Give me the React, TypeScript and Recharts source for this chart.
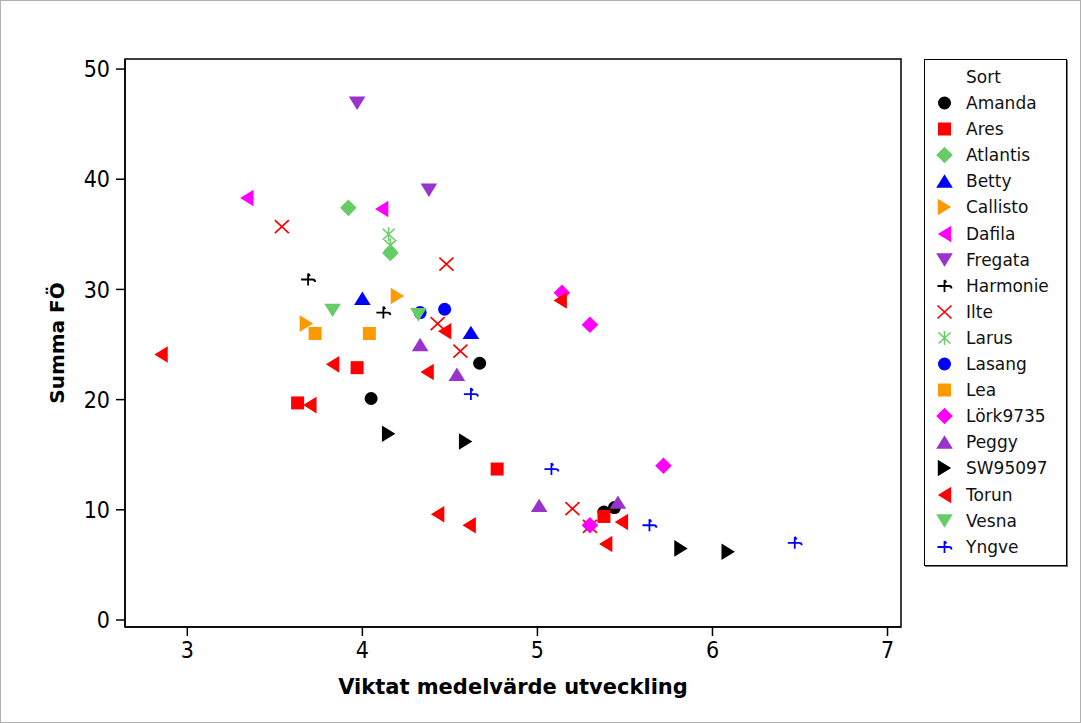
import { ReferenceArea, Scatter, ScatterChart, XAxis, YAxis } from "recharts";

type Pt = { x: number; y: number };
type Kind = "circle" | "square" | "diamond" | "up" | "right" | "left" | "down" | "hook" | "cross" | "star";

// Varieties (Sort)
const amanda: Pt[] = [
	{ x: 4.05, y: 20.1 },
	{ x: 4.67, y: 23.3 },
	{ x: 5.38, y: 9.8 },
	{ x: 5.44, y: 10.2 },
];
const ares: Pt[] = [
	{ x: 3.63, y: 19.7 },
	{ x: 3.97, y: 22.9 },
	{ x: 4.77, y: 13.7 },
	{ x: 5.38, y: 9.4 },
];
const atlantis: Pt[] = [
	{ x: 3.92, y: 37.4 },
	{ x: 4.16, y: 33.3 },
];
const betty: Pt[] = [
	{ x: 4.0, y: 29.2 },
	{ x: 4.62, y: 26.1 },
];
const callisto: Pt[] = [
	{ x: 3.68, y: 26.9 },
	{ x: 4.2, y: 29.4 },
];
const dafila: Pt[] = [
	{ x: 3.34, y: 38.3 },
	{ x: 4.11, y: 37.3 },
];
const fregata: Pt[] = [
	{ x: 3.97, y: 46.9 },
	{ x: 4.38, y: 39.0 },
];
const harmonie: Pt[] = [
	{ x: 3.69, y: 30.9 },
	{ x: 4.12, y: 27.9 },
];
const ilte: Pt[] = [
	{ x: 3.54, y: 35.7 },
	{ x: 4.48, y: 32.3 },
	{ x: 4.43, y: 26.9 },
	{ x: 4.56, y: 24.4 },
	{ x: 5.2, y: 10.1 },
	{ x: 5.3, y: 8.5 },
];
const larus: Pt[] = [
	{ x: 4.15, y: 35.0 },
	{ x: 4.16, y: 34.0 },
];
const lasang: Pt[] = [
	{ x: 4.33, y: 27.9 },
	{ x: 4.47, y: 28.2 },
];
const lea: Pt[] = [
	{ x: 3.73, y: 26.0 },
	{ x: 4.04, y: 26.0 },
];
const lork: Pt[] = [
	{ x: 5.14, y: 29.7 },
	{ x: 5.3, y: 26.8 },
	{ x: 5.72, y: 14.0 },
	{ x: 5.3, y: 8.6 },
];
const peggy: Pt[] = [
	{ x: 4.33, y: 25.0 },
	{ x: 4.54, y: 22.3 },
	{ x: 5.01, y: 10.4 },
	{ x: 5.46, y: 10.7 },
];
const sw95097: Pt[] = [
	{ x: 4.15, y: 16.9 },
	{ x: 4.59, y: 16.2 },
	{ x: 5.82, y: 6.5 },
	{ x: 6.09, y: 6.2 },
];
const torun: Pt[] = [
	{ x: 2.85, y: 24.1 },
	{ x: 3.83, y: 23.2 },
	{ x: 3.7, y: 19.5 },
	{ x: 4.47, y: 26.2 },
	{ x: 4.37, y: 22.5 },
	{ x: 5.13, y: 29.0 },
	{ x: 4.43, y: 9.6 },
	{ x: 4.61, y: 8.6 },
	{ x: 5.48, y: 8.9 },
	{ x: 5.39, y: 6.9 },
];
const vesna: Pt[] = [
	{ x: 3.83, y: 28.1 },
	{ x: 4.32, y: 27.7 },
];
const yngve: Pt[] = [
	{ x: 4.62, y: 20.5 },
	{ x: 5.08, y: 13.7 },
	{ x: 5.64, y: 8.6 },
	{ x: 6.47, y: 7.0 },
];

const xTicks = [3, 4, 5, 6, 7];
const yTicks = [0, 10, 20, 30, 40, 50];
const xDomain: [number, number] = [2.644, 7.077];
const yDomain: [number, number] = [-0.635, 50.91];

const series: { name: string; color: string; kind: Kind; data: Pt[] }[] = [
	{ name: "Amanda", color: "#000000", kind: "circle", data: amanda },
	{ name: "Ares", color: "#ff0000", kind: "square", data: ares },
	{ name: "Atlantis", color: "#66cc66", kind: "diamond", data: atlantis },
	{ name: "Betty", color: "#0000ff", kind: "up", data: betty },
	{ name: "Callisto", color: "#ff9900", kind: "right", data: callisto },
	{ name: "Dafila", color: "#ff00ff", kind: "left", data: dafila },
	{ name: "Fregata", color: "#9933cc", kind: "down", data: fregata },
	{ name: "Harmonie", color: "#000000", kind: "hook", data: harmonie },
	{ name: "Ilte", color: "#ff0000", kind: "cross", data: ilte },
	{ name: "Larus", color: "#66cc66", kind: "star", data: larus },
	{ name: "Lasang", color: "#0000ff", kind: "circle", data: lasang },
	{ name: "Lea", color: "#ff9900", kind: "square", data: lea },
	{ name: "Lörk9735", color: "#ff00ff", kind: "diamond", data: lork },
	{ name: "Peggy", color: "#9933cc", kind: "up", data: peggy },
	{ name: "SW95097", color: "#000000", kind: "right", data: sw95097 },
	{ name: "Torun", color: "#ff0000", kind: "left", data: torun },
	{ name: "Vesna", color: "#66cc66", kind: "down", data: vesna },
	{ name: "Yngve", color: "#0000ff", kind: "hook", data: yngve },
];

const FONT = "'DejaVu Sans', Verdana, sans-serif";
const TICK_FONT = "'DejaVu Sans Condensed', 'DejaVu Sans', sans-serif";

function Marker({ kind, color, cx, cy }: { kind: Kind; color: string; cx: number; cy: number }) {
	const pts = (arr: number[][]) => arr.map(([a, b]) => `${cx + a},${cy + b}`).join(" ");
	switch (kind) {
		case "circle":
			return <circle cx={cx} cy={cy} r={6.5} fill={color} />;
		case "square":
			return <rect x={cx - 6.5} y={cy - 6.5} width={13} height={13} fill={color} />;
		case "diamond":
			return <polygon points={pts([[0, -8.3], [8.3, 0], [0, 8.3], [-8.3, 0]])} fill={color} />;
		case "up":
			return <polygon points={pts([[-8.3, 6.7], [8.3, 6.7], [0, -6.7]])} fill={color} />;
		case "down":
			return <polygon points={pts([[-8.3, -6.7], [8.3, -6.7], [0, 6.7]])} fill={color} />;
		case "right":
			return <polygon points={pts([[-6.7, -8.3], [-6.7, 8.3], [6.7, 0]])} fill={color} />;
		case "left":
			return <polygon points={pts([[6.7, -8.3], [6.7, 8.3], [-6.7, 0]])} fill={color} />;
		case "cross":
			return (
				<path
					d={`M${cx - 7},${cy - 6.5}L${cx + 7},${cy + 6.5}M${cx + 7},${cy - 6.5}L${cx - 7},${cy + 6.5}`}
					stroke={color}
					strokeWidth={1.7}
					fill="none"
				/>
			);
		case "star":
			return (
				<path
					d={`M${cx - 6},${cy - 5.5}L${cx + 6},${cy + 5.5}M${cx + 6},${cy - 5.5}L${cx - 6},${cy + 5.5}M${cx},${cy - 7}L${cx},${cy + 7}`}
					stroke={color}
					strokeWidth={1.5}
					fill="none"
				/>
			);
		case "hook":
			return (
				<path
					d={`M${cx - 7},${cy}L${cx + 4.5},${cy}Q${cx + 7},${cy} ${cx + 7},${cy + 2.5}M${cx},${cy - 6}L${cx},${cy + 6}M${cx},${cy - 6}L${cx + 2},${cy - 3.5}`}
					stroke={color}
					strokeWidth={1.8}
					fill="none"
				/>
			);
	}
	return null;
}

function SortLegend() {
	return (
		<div
			style={{
				position: "absolute",
				left: 924,
				top: 59,
				width: 141,
				height: 505,
				border: "1px solid #000",
				boxShadow: "1px 1px 0 #777",
				background: "#fff",
				fontFamily: FONT,
				fontSize: 17,
				color: "#111",
			}}
		>
			<div style={{ position: "absolute", left: 41, top: 7 }}>Sort</div>
			{series.map((s, i) => (
				<div key={s.name} style={{ position: "absolute", left: 0, top: 32 + i * 26.1, height: 22 }}>
					<svg width={40} height={22} style={{ position: "absolute", left: 0, top: 0 }}>
						<Marker kind={s.kind} color={s.color} cx={19.5} cy={11} />
					</svg>
					<span style={{ position: "absolute", left: 41, top: 1, whiteSpace: "nowrap" }}>{s.name}</span>
				</div>
			))}
		</div>
	);
}

export default function App() {
	return (
		<div
			style={{
				position: "absolute",
				left: 0,
				top: 0,
				width: 1081,
				height: 723,
				background: "#fff",
				fontFamily: FONT,
			}}
		>
			<ScatterChart width={1081} height={723} margin={{ top: 59, right: 180, bottom: 0, left: 0 }}>
				<XAxis
					type="number"
					dataKey="x"
					domain={xDomain}
					ticks={xTicks}
					allowDataOverflow
					height={96}
					tickSize={9}
					tickMargin={6}
					axisLine={{ stroke: "#000", strokeWidth: 1.5 }}
					tickLine={{ stroke: "#000", strokeWidth: 1.5 }}
					tick={{ fill: "#000", fontSize: 23, fontFamily: TICK_FONT }}
					label={{
						value: "Viktat medelvärde utveckling",
						position: "insideBottom",
						offset: 29,
						fill: "#000",
						fontSize: 21,
						fontWeight: "bold",
						fontFamily: FONT,
					}}
				/>
				<YAxis
					type="number"
					dataKey="y"
					domain={yDomain}
					ticks={yTicks}
					allowDataOverflow
					width={125}
					tickSize={9}
					tickMargin={6}
					axisLine={{ stroke: "#000", strokeWidth: 1.5 }}
					tickLine={{ stroke: "#000", strokeWidth: 1.5 }}
					tick={{ fill: "#000", fontSize: 23, fontFamily: TICK_FONT }}
					label={{
						value: "Summa FÖ",
						angle: -90,
						position: "center",
						dx: -6,
						fill: "#000",
						fontSize: 20,
						fontWeight: "bold",
						fontFamily: FONT,
					}}
				/>
				<ReferenceArea
					x1={xDomain[0]}
					x2={xDomain[1]}
					y1={yDomain[0]}
					y2={yDomain[1]}
					fill="none"
					fillOpacity={0}
					stroke="#000"
					strokeWidth={1.5}
					strokeOpacity={1}
				/>
				{series.map((s) => (
					<Scatter
						key={s.name}
						name={s.name}
						data={s.data}
						fill={s.color}
						isAnimationActive={false}
						shape={(p: any) => <Marker kind={s.kind} color={s.color} cx={p.cx} cy={p.cy} />}
					/>
				))}
			</ScatterChart>
			<SortLegend />
			<div
				style={{
					position: "absolute",
					left: 0,
					top: 0,
					width: 1081,
					height: 723,
					boxSizing: "border-box",
					border: "1px solid #b0b0b0",
					pointerEvents: "none",
				}}
			/>
		</div>
	);
}
